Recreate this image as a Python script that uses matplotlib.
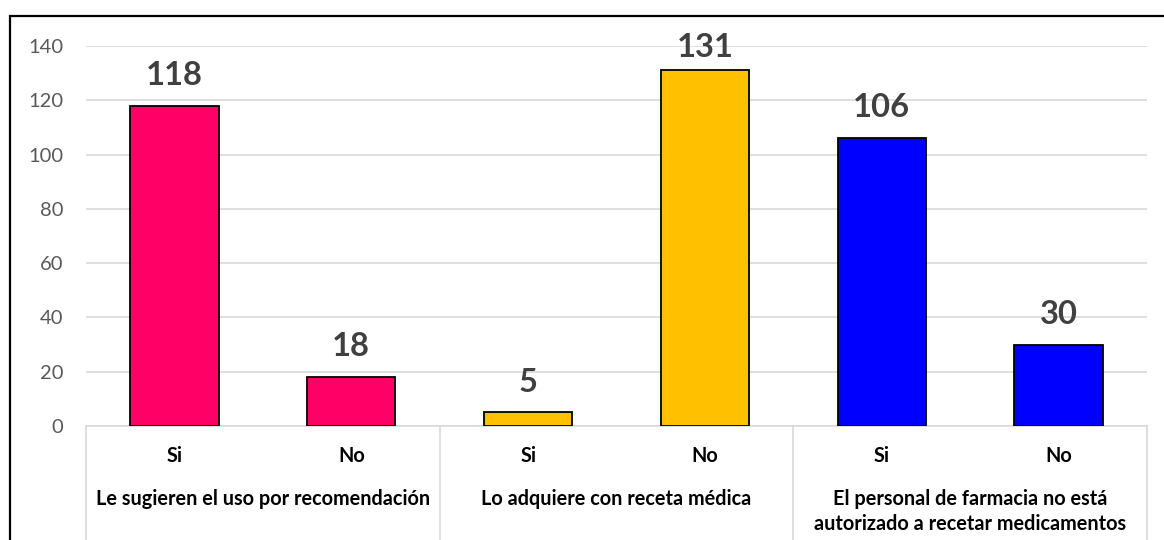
import matplotlib
matplotlib.use("Agg")
import matplotlib.pyplot as plt
from matplotlib.patches import Rectangle
from matplotlib.lines import Line2D
import matplotlib.transforms as mtransforms

plt.rcParams['font.family'] = ['Lato', 'DejaVu Sans']

groups = ["Le sugieren el uso por recomendación",
          "Lo adquiere con receta médica",
          "El personal de farmacia no está\nautorizado a recetar medicamentos"]
answers = ["Si", "No"]
values = [118, 18, 5, 131, 106, 30]
group_colors = ["#FF0066", "#FFC000", "#0000FF"]
yticks = [0, 20, 40, 60, 80, 100, 120, 140]

W, H = 1164, 540
fig = plt.figure(figsize=(W / 100, H / 100), dpi=100)
AX_BOTTOM, AX_TOP = 426, 46
ax = fig.add_axes([86 / W, 1 - AX_BOTTOM / H, (1147 - 86) / W, (AX_BOTTOM - AX_TOP) / H])
PLOT_H = AX_BOTTOM - AX_TOP

fig.canvas.draw()
renderer = fig.canvas.get_renderer()


def fitted_size(text, target_px, weight="normal", base=20):
    t = fig.text(0, 0, text, fontsize=base, fontweight=weight)
    w = t.get_window_extent(renderer).width
    t.remove()
    return base * target_px / w


lab_fs = fitted_size(groups[0], 334, "bold")
val_fs = fitted_size("118", 57, "bold")
tick_fs = fitted_size("140", 35)

n = len(values)
x = list(range(n))
colors = [group_colors[i // 2] for i in range(n)]
ax.bar(x, values, width=0.5, color=colors, edgecolor="black", linewidth=1.3, zorder=3)

ax.set_xlim(-0.5, n - 0.5)
ax.set_ylim(0, 140)
ax.set_yticks(yticks)
ax.tick_params(axis='y', length=0, labelsize=tick_fs, labelcolor="#595959", pad=16.5)
ax.grid(axis='y', color="#D9D9D9", linewidth=1.2, zorder=0)
ax.set_axisbelow(True)
for s in ["top", "right", "left"]:
    ax.spines[s].set_visible(False)
ax.spines["bottom"].set_color("#D9D9D9")
ax.spines["bottom"].set_linewidth(1.2)
ax.set_xticks([])

trans = mtransforms.blended_transform_factory(ax.transData, ax.transAxes)
# answer labels
for xi in x:
    ax.text(xi, -(462 - AX_BOTTOM) / PLOT_H, answers[xi % 2], transform=trans,
            ha="center", va="baseline", fontsize=lab_fs, fontweight="bold", color="black")
# group separators
for b in range(0, n + 1, 2):
    ax.add_line(Line2D([b - 0.5, b - 0.5], [0, -0.33], transform=trans,
                       color="#D9D9D9", linewidth=1.2, clip_on=False))
# group labels
for g, name in enumerate(groups):
    for k, line in enumerate(name.split("\n")):
        ax.text(2 * g + 0.5, -(505 + 25 * k - AX_BOTTOM) / PLOT_H, line, transform=trans,
                ha="center", va="baseline", fontsize=lab_fs, fontweight="bold", color="black")

# value labels
for xi, v in zip(x, values):
    ax.text(xi, min(v + 7.7, 136), str(v), ha="center", va="baseline",
            fontsize=val_fs, fontweight="bold", color="#404040", clip_on=False)

# outer border (cut at right and bottom)
fig.patches.append(Rectangle((10 / W, -0.1), 1.2, 1 - 16 / H + 0.1,
                             transform=fig.transFigure, fill=False,
                             edgecolor="black", linewidth=1.6))

fig.savefig("out.png", dpi=100)
